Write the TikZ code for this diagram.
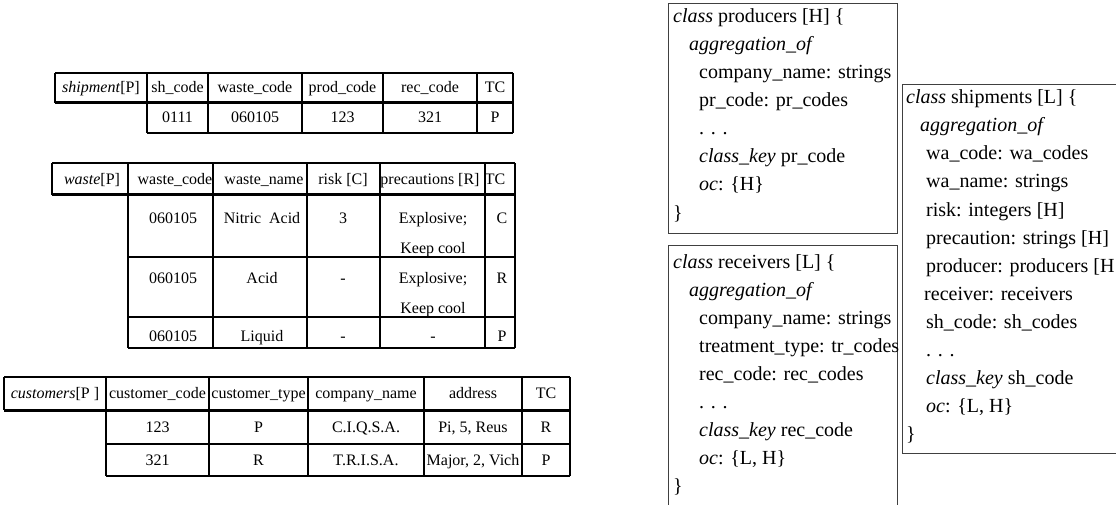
\documentclass[tikz,border=0pt]{standalone}
\usepackage{fontspec}
\setmainfont{Liberation Serif}
\begin{document}
\begin{tikzpicture}[x=1pt,y=-1pt,
  hrule/.style={line width=1.6pt},
  vrule/.style={line width=2.2pt},
  headrule/.style={line width=3pt},
  cell/.style={inner sep=0pt, anchor=base, font=\fontsize{16}{18}\selectfont},
  clsline/.style={inner sep=0pt, anchor=base west, font=\fontsize{20}{24}\selectfont},
  clsbox/.style={draw=black!75, line width=1pt}]
\useasboundingbox (0,0) rectangle (1116,505);
\clip (0,0) rectangle (1116,505);
\fill[white] (0,0) rectangle (1116,505);

% ---------- relation shipment ----------
\draw[hrule] (55,73) -- (513,73);
\draw[headrule] (55,103) -- (513,103);
\draw[hrule] (147,133) -- (513,133);
\draw[vrule] (55,73) -- (55,103);
\foreach \x in {147,208,302,383,477,513} \draw[vrule] (\x,73) -- (\x,133);
\foreach \cx/\tx [count=\j] in {101/{\textit{shipment}[P]}, 177.5/{sh\_code}, 255/{waste\_code}, 342.5/{prod\_code}, 430/{rec\_code}, 495/{TC}}
  \node[cell] (shh\j) at (\cx,93) {\tx};
\foreach \cx/\tx [count=\j] in {177.5/{0111}, 255/{060105}, 342.5/{123}, 430/{321}, 495/{P}}
  \node[cell] (shd\j) at (\cx,123) {\tx};

% ---------- relation waste ----------
\draw[hrule] (52,163) -- (515,163);
\draw[headrule] (52,195) -- (515,195);
\foreach \y in {257,317,348} \draw[hrule] (128,\y) -- (515,\y);
\draw[vrule] (52,163) -- (52,195);
\foreach \x in {128,213,307,380,485,515} \draw[vrule] (\x,163) -- (\x,348);
\foreach \cx/\tx [count=\j] in {92/{\textit{waste}[P]}, 175/{waste\_code}, 264/{waste\_name}, 343/{risk [C]}, 430/{precautions [R]}, 495/{TC}}
  \node[cell] (wah\j) at (\cx,185) {\tx};
\foreach \cx/\tx [count=\j] in {173/{060105}, 262/{Nitric\hspace{0.5em}Acid}, 343/{3}, 433/{Explosive;}, 502/{C}}
  \node[cell] (wa1\j) at (\cx,223) {\tx};
\node[cell] (wa1x) at (433,253) {Keep cool};
\foreach \cx/\tx [count=\j] in {173/{060105}, 262/{Acid}, 343/{-}, 433/{Explosive;}, 502/{R}}
  \node[cell] (wa2\j) at (\cx,283) {\tx};
\node[cell] (wa2x) at (433,313) {Keep cool};
\foreach \cx/\tx [count=\j] in {173/{060105}, 262/{Liquid}, 343/{-}, 433/{-}, 502/{P}}
  \node[cell] (wa3\j) at (\cx,341) {\tx};

% ---------- relation customers ----------
\draw[hrule] (4,377) -- (570,377);
\draw[headrule] (4,410) -- (570,410);
\foreach \y in {444,476} \draw[hrule] (106,\y) -- (570,\y);
\draw[vrule] (4,377) -- (4,410);
\foreach \x in {106,209,308,424,522,570} \draw[vrule] (\x,377) -- (\x,476);
\foreach \cx/\tx [count=\j] in {55/{\textit{customers}[P ]}, 157.5/{customer\_code}, 258.5/{customer\_type}, 366/{company\_name}, 473/{address}, 546/{TC}}
  \node[cell] (cuh\j) at (\cx,398) {\tx};
\foreach \cx/\tx [count=\j] in {157.5/{123}, 258.5/{P}, 366/{C.I.Q.S.A.}, 473/{Pi, 5, Reus}, 546/{R}}
  \node[cell] (cu1\j) at (\cx,432) {\tx};
\foreach \cx/\tx [count=\j] in {157.5/{321}, 258.5/{R}, 366/{T.R.I.S.A.}, 473/{Major, 2, Vich}, 546/{P}}
  \node[cell] (cu2\j) at (\cx,465) {\tx};

% ---------- class producers ----------
\draw[clsbox] (668,4) rectangle (897,233);
\foreach \lv/\tx [count=\i] in {0/{\textit{class} producers [H] \{}, 16/{\textit{aggregation\_of}}, 26/{company\_name: strings}, 26/{pr\_code: pr\_codes}, 26/{. . .}, 26/{\textit{class\_key} pr\_code}, 26/{\textit{oc}: \{H\}}, 0/{\}}}
  \node[clsline] (prod\i) at ({673+\lv},{23+(\i-1)*28}) {\tx};

% ---------- class receivers ----------
\draw[clsbox] (668,245) rectangle (897,520);
\foreach \lv/\tx [count=\i] in {0/{\textit{class} receivers [L] \{}, 16/{\textit{aggregation\_of}}, 26/{company\_name: strings}, 26/{treatment\_type: tr\_codes}, 26/{rec\_code: rec\_codes}, 26/{. . .}, 26/{\textit{class\_key} rec\_code}, 26/{\textit{oc}: \{L, H\}}, 0/{\}}}
  \node[clsline] (recv\i) at ({673+\lv},{268+(\i-1)*28}) {\tx};

% ---------- class shipments ----------
\draw[clsbox] (902,85) rectangle (1130,453);
\foreach \lv/\tx [count=\i] in {0/{\textit{class} shipments [L] \{}, 14/{\textit{aggregation\_of}}, 20/{wa\_code: wa\_codes}, 20/{wa\_name: strings}, 20/{risk: integers [H]}, 20/{precaution: strings [H]}, 20/{producer: producers [H}, 18/{receiver: receivers}, 20/{sh\_code: sh\_codes}, 20/{. . .}, 20/{\textit{class\_key} sh\_code}, 20/{\textit{oc}: \{L, H\}}, 0/{\}}}
  \node[clsline] (ship\i) at ({906+\lv},{104+(\i-1)*28}) {\tx};
\end{tikzpicture}
\end{document}
